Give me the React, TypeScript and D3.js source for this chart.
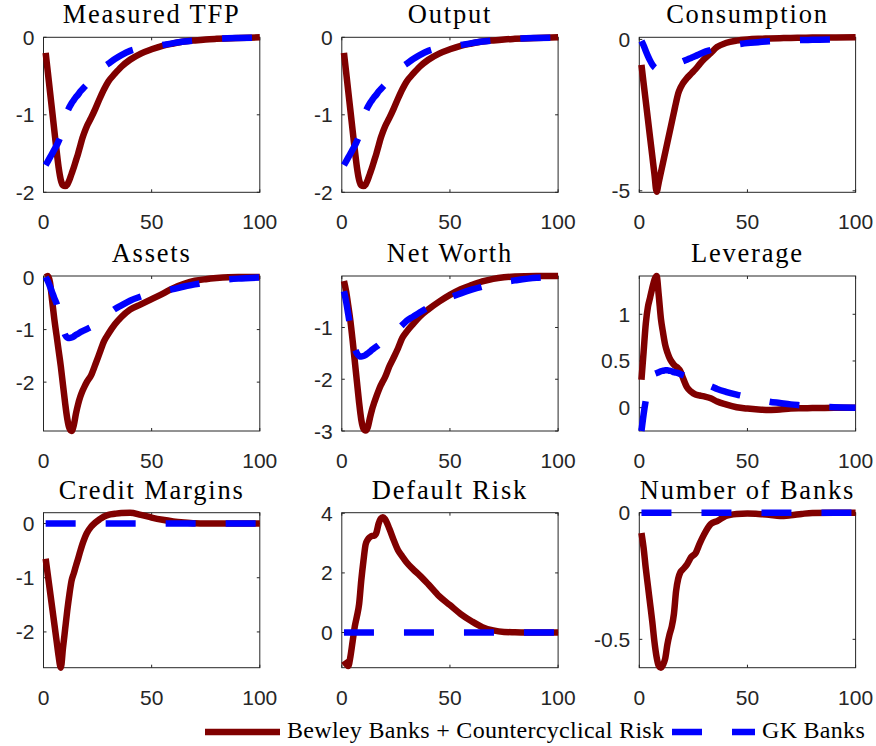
import { useRef, useEffect } from "react";
import * as d3 from "d3";

// periods after the shock
const periods = [1, 2, 3, 4, 5, 6, 7, 8, 9, 10, 11, 12, 13, 14, 15, 16, 17, 18, 19, 20, 22, 24, 26, 28, 30, 33, 36, 40, 45, 50, 55, 60, 65, 70, 75, 80, 90, 100];

const titles = ["Measured TFP", "Output", "Consumption", "Assets", "Net Worth", "Leverage", "Credit Margins", "Default Risk", "Number of Banks"];
const seriesNames = ["Bewley Banks + Countercyclical Risk", "GK Banks"];

const tfpBewley = [-0.2, -0.45, -0.7, -0.95, -1.2, -1.45, -1.68, -1.84, -1.91, -1.92, -1.9, -1.84, -1.76, -1.68, -1.59, -1.5, -1.4, -1.3, -1.22, -1.15, -1.04, -0.92, -0.79, -0.67, -0.57, -0.47, -0.38, -0.29, -0.21, -0.155, -0.11, -0.08, -0.055, -0.04, -0.028, -0.02, -0.008, 0];
const tfpGK = [-1.65, -1.6, -1.55, -1.5, -1.45, -1.4, -1.34, -1.27, -1.15, -1.04, -0.96, -0.9, -0.85, -0.81, -0.77, -0.74, -0.7, -0.67, -0.64, -0.61, -0.55, -0.49, -0.43, -0.38, -0.34, -0.28, -0.23, -0.175, -0.14, -0.12, -0.1, -0.075, -0.055, -0.04, -0.028, -0.018, -0.008, -0.003];

const outputBewley = [-0.2, -0.45, -0.7, -0.95, -1.2, -1.45, -1.68, -1.84, -1.91, -1.92, -1.9, -1.84, -1.76, -1.68, -1.59, -1.5, -1.4, -1.3, -1.22, -1.15, -1.04, -0.92, -0.79, -0.67, -0.57, -0.47, -0.38, -0.29, -0.21, -0.155, -0.11, -0.08, -0.055, -0.04, -0.028, -0.02, -0.008, 0];
const outputGK = [-1.65, -1.6, -1.55, -1.5, -1.45, -1.4, -1.34, -1.27, -1.15, -1.04, -0.96, -0.9, -0.85, -0.81, -0.77, -0.74, -0.7, -0.67, -0.64, -0.61, -0.55, -0.49, -0.43, -0.38, -0.34, -0.28, -0.23, -0.175, -0.14, -0.12, -0.1, -0.075, -0.055, -0.04, -0.028, -0.018, -0.008, -0.003];

const consBewley = [-0.84, -1.45, -2.05, -2.65, -3.25, -3.85, -4.45, -5.03, -4.72, -4.39, -4.06, -3.73, -3.4, -3.07, -2.74, -2.41, -2.08, -1.78, -1.6, -1.47, -1.28, -1.13, -0.98, -0.81, -0.65, -0.45, -0.25, -0.12, -0.04, 0, 0.02, 0.03, 0.04, 0.05, 0.055, 0.06, 0.065, 0.07];
const consGK = [-0.05, -0.2, -0.38, -0.55, -0.7, -0.83, -0.92, -0.97, -0.99, -0.98, -0.96, -0.94, -0.92, -0.89, -0.87, -0.84, -0.82, -0.79, -0.76, -0.73, -0.67, -0.61, -0.55, -0.48, -0.42, -0.35, -0.28, -0.22, -0.17, -0.12, -0.09, -0.06, -0.045, -0.03, -0.02, -0.015, -0.005, 0];

const assetsBewley = [0, 0.02, -0.1, -0.45, -0.8, -1.1, -1.4, -1.7, -2.05, -2.4, -2.7, -2.88, -2.93, -2.82, -2.6, -2.42, -2.28, -2.17, -2.08, -2.0, -1.87, -1.66, -1.44, -1.22, -1.08, -0.9, -0.76, -0.62, -0.52, -0.42, -0.32, -0.21, -0.13, -0.07, -0.04, -0.02, 0, 0];
const assetsGK = [0, -0.08, -0.18, -0.29, -0.4, -0.5, -0.65, -0.82, -0.98, -1.1, -1.15, -1.16, -1.15, -1.13, -1.1, -1.08, -1.05, -1.03, -1.01, -0.99, -0.95, -0.9, -0.83, -0.76, -0.7, -0.61, -0.54, -0.45, -0.37, -0.31, -0.27, -0.23, -0.18, -0.14, -0.1, -0.07, -0.03, -0.01];

const netWorthBewley = [-0.1, -0.3, -0.58, -0.88, -1.25, -1.65, -2.05, -2.45, -2.78, -2.95, -2.99, -2.93, -2.75, -2.58, -2.45, -2.33, -2.22, -2.12, -2.04, -1.96, -1.75, -1.58, -1.4, -1.2, -1.08, -0.93, -0.79, -0.65, -0.5, -0.37, -0.26, -0.18, -0.11, -0.06, -0.03, -0.015, -0.006, -0.005];
const netWorthGK = [-0.3, -0.5, -0.75, -1.0, -1.22, -1.4, -1.5, -1.55, -1.56, -1.55, -1.53, -1.5, -1.47, -1.43, -1.4, -1.37, -1.34, -1.3, -1.27, -1.24, -1.17, -1.1, -1.03, -0.95, -0.87, -0.79, -0.71, -0.61, -0.5, -0.42, -0.34, -0.27, -0.21, -0.16, -0.12, -0.09, -0.04, -0.02];

const leverageBewley = [0.3, 0.6, 0.9, 1.08, 1.18, 1.28, 1.37, 1.41, 1.2, 0.95, 0.8, 0.67, 0.59, 0.53, 0.49, 0.46, 0.44, 0.42, 0.39, 0.33, 0.22, 0.17, 0.14, 0.13, 0.12, 0.1, 0.065, 0.035, 0.005, -0.01, -0.02, -0.025, -0.02, -0.01, -0.007, -0.005, 0, 0];
const leverageGK = [-0.25, -0.07, 0.08, 0.2, 0.28, 0.33, 0.36, 0.37, 0.38, 0.39, 0.395, 0.4, 0.4, 0.395, 0.39, 0.38, 0.375, 0.37, 0.36, 0.35, 0.335, 0.32, 0.3, 0.27, 0.255, 0.23, 0.2, 0.17, 0.14, 0.115, 0.09, 0.065, 0.05, 0.035, 0.025, 0.015, 0.005, 0];

const creditBewley = [-0.65, -0.95, -1.25, -1.55, -1.85, -2.15, -2.45, -2.66, -2.3, -1.95, -1.6, -1.3, -1.05, -0.92, -0.78, -0.65, -0.51, -0.38, -0.27, -0.18, -0.06, 0.02, 0.08, 0.13, 0.16, 0.18, 0.195, 0.2, 0.16, 0.11, 0.07, 0.04, 0.02, 0.005, 0, 0, 0, 0];
const creditGK = periods.map(() => 0);

const defaultBewley = [-0.95, -1.05, -1.12, -0.8, -0.3, 0.2, 0.55, 0.95, 1.75, 2.4, 2.95, 3.12, 3.2, 3.24, 3.25, 3.35, 3.65, 3.82, 3.87, 3.8, 3.48, 3.1, 2.76, 2.55, 2.35, 2.12, 1.92, 1.62, 1.22, 0.92, 0.62, 0.38, 0.18, 0.07, 0.02, 0.01, 0, 0];
const defaultGK = periods.map(() => 0);

const banksBewley = [-0.08, -0.14, -0.22, -0.29, -0.36, -0.43, -0.51, -0.57, -0.605, -0.612, -0.6, -0.575, -0.52, -0.48, -0.45, -0.4, -0.31, -0.26, -0.235, -0.225, -0.205, -0.175, -0.16, -0.12, -0.085, -0.045, -0.033, -0.013, -0.005, -0.003, -0.005, -0.008, -0.013, -0.01, -0.005, -0.001, 0, 0];
const banksGK = periods.map(() => 0);

const bewleySeries = [tfpBewley, outputBewley, consBewley, assetsBewley, netWorthBewley, leverageBewley, creditBewley, defaultBewley, banksBewley];
const gkSeries = [tfpGK, outputGK, consGK, assetsGK, netWorthGK, leverageGK, creditGK, defaultGK, banksGK];

// y limits and ticks per panel
const yDomains = [[-2, 0], [-2, 0], [-5.05, 0.07], [-2.93, 0.02], [-3, -0.005], [-0.25, 1.41], [-2.66, 0.2], [-1.18, 4.02], [-0.612, 0]];
const yTicks = [[-2, -1, 0], [-2, -1, 0], [-5, 0], [-2, -1, 0], [-3, -2, -1], [0, 0.5, 1], [-2, -1, 0], [0, 2, 4], [-0.5, 0]];
const xTicks = [0, 50, 100];

const RED = "#800000";
const BLUE = "#0000ff";
const AXIS = "#262626";

export default function App() {
  const svgRef = useRef(null);

  useEffect(() => {
    const svg = d3.select(svgRef.current);
    svg.selectAll("*").remove();

    const colLeft = [43.5, 341.8, 639.3];
    const rowTop = [37.3, 276, 512.7];
    const w = 216.3;
    const h = 155;

    titles.forEach((title, i) => {
      const left = colLeft[i % 3];
      const top = rowTop[Math.floor(i / 3)];
      const x = d3.scaleLinear().domain([0, 100]).range([left, left + w]);
      const y = d3.scaleLinear().domain(yDomains[i]).range([top + h, top]);
      const g = svg.append("g");

      // box
      g.append("rect")
        .attr("x", left).attr("y", top).attr("width", w).attr("height", h)
        .attr("fill", "white").attr("stroke", AXIS).attr("stroke-width", 1);

      // ticks inside, both sides
      xTicks.forEach(t => {
        g.append("line").attr("x1", x(t)).attr("x2", x(t)).attr("y1", top + h).attr("y2", top + h - 3).attr("stroke", AXIS);
        g.append("line").attr("x1", x(t)).attr("x2", x(t)).attr("y1", top).attr("y2", top + 3).attr("stroke", AXIS);
        g.append("text")
          .attr("x", x(t)).attr("y", top + h + 37)
          .attr("text-anchor", "middle")
          .attr("font-family", "'Liberation Sans', Arial, sans-serif")
          .attr("font-size", 21).attr("fill", AXIS)
          .text(String(t));
      });
      yTicks[i].forEach(t => {
        g.append("line").attr("x1", left).attr("x2", left + 3).attr("y1", y(t)).attr("y2", y(t)).attr("stroke", AXIS);
        g.append("line").attr("x1", left + w).attr("x2", left + w - 3).attr("y1", y(t)).attr("y2", y(t)).attr("stroke", AXIS);
        g.append("text")
          .attr("x", left - 9).attr("y", y(t) + 7.5)
          .attr("text-anchor", "end")
          .attr("font-family", "'Liberation Sans', Arial, sans-serif")
          .attr("font-size", 21).attr("fill", AXIS)
          .text(String(t)); // plain hyphen, as in the reference
      });

      // title
      g.append("text")
        .attr("x", left + w / 2).attr("y", top - 14)
        .attr("text-anchor", "middle")
        .attr("font-family", "'Liberation Serif', 'Times New Roman', serif")
        .attr("font-size", 26.5).attr("letter-spacing", 1.8)
        .attr("fill", "black")
        .text(title);

      const line = d3.line<number>()
        .x((_, k) => x(periods[k]))
        .y(d => y(d))
        .curve(d3.curveMonotoneX);

      g.append("path")
        .attr("d", line(bewleySeries[i]))
        .attr("fill", "none").attr("stroke", RED).attr("stroke-width", 6.5)
        .attr("stroke-linejoin", "round");

      g.append("path")
        .attr("d", line(gkSeries[i]))
        .attr("fill", "none").attr("stroke", BLUE).attr("stroke-width", 6.5)
        .attr("stroke-dasharray", "30 30");
    });

    // legend
    const lg = svg.append("g");
    lg.append("line").attr("x1", 205).attr("x2", 280).attr("y1", 732).attr("y2", 732)
      .attr("stroke", RED).attr("stroke-width", 6.5);
    lg.append("text").attr("x", 287).attr("y", 738)
      .attr("font-family", "'Liberation Serif', 'Times New Roman', serif")
      .attr("font-size", 24).attr("letter-spacing", 0.3).attr("fill", "black")
      .text(seriesNames[0]);
    lg.append("line").attr("x1", 672).attr("x2", 755).attr("y1", 732).attr("y2", 732)
      .attr("stroke", BLUE).attr("stroke-width", 6.5).attr("stroke-dasharray", "30 30");
    lg.append("text").attr("x", 762).attr("y", 738)
      .attr("font-family", "'Liberation Serif', 'Times New Roman', serif")
      .attr("font-size", 24).attr("letter-spacing", 0.3).attr("fill", "black")
      .text(seriesNames[1]);
  }, []);

  return (
    <svg ref={svgRef} width={876} height={746}
      style={{ position: "absolute", left: 0, top: 0, background: "white" }} />
  );
}
